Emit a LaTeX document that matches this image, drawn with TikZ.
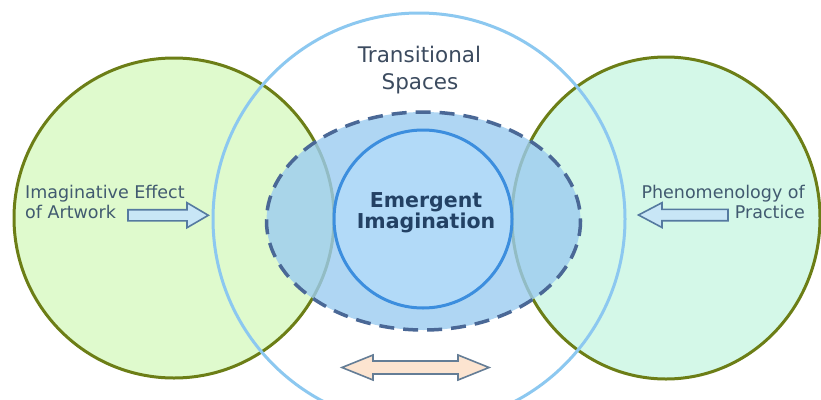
\documentclass[tikz,border=0pt]{standalone}
\usepackage{fontspec}
\setmainfont{DejaVu Sans}
\definecolor{lgreen}{RGB}{223,250,205}
\definecolor{rgreen}{RGB}{212,248,232}
\definecolor{olive}{RGB}{108,126,22}
\definecolor{bigblue}{RGB}{140,200,240}
\definecolor{ellfill}{RGB}{156,204,240}
\definecolor{dashc}{RGB}{74,104,150}
\definecolor{innerc}{RGB}{60,142,222}
\definecolor{innerfill}{RGB}{178,218,248}
\definecolor{txtA}{RGB}{60,75,95}
\definecolor{txtB}{RGB}{65,90,112}
\definecolor{txtC}{RGB}{35,65,100}
\definecolor{arrowfill}{RGB}{200,230,246}
\definecolor{arrowline}{RGB}{85,122,160}
\definecolor{peach}{RGB}{252,228,208}
\definecolor{peachline}{RGB}{100,125,150}
\tikzset{
  greencirc/.style={draw=olive, line width=3pt},
  sidetext/.style={text=txtB, font=\fontsize{17.5}{20}\selectfont, inner sep=0pt, anchor=base},
  toptext/.style={text=txtA, font=\fontsize{21.5}{27}\selectfont, inner sep=0pt, anchor=base},
  midtext/.style={text=txtC, font=\bfseries\fontsize{20.5}{21}\selectfont, inner sep=0pt, anchor=base},
  blockarrow/.style={fill=arrowfill, draw=arrowline, line width=1.6pt, line join=miter},
}
\begin{document}
\begin{tikzpicture}[x=1pt,y=-1pt]
\useasboundingbox (0,0) rectangle (821,399);
\clip (0,0) rectangle (821,399);
\fill[white] (0,0) rectangle (821,399);
% green circles
\path[greencirc, fill=lgreen] (174,218) circle[radius=160];
\path[greencirc, fill=rgreen] (666,218) ellipse[x radius=154, y radius=161];
% transitional big circle
\draw[bigblue, line width=3pt] (419,219) circle[radius=206];
% dashed ellipse
\fill[ellfill, fill opacity=0.8] (423.5,221) ellipse[x radius=157, y radius=109];
\draw[dashc, line width=3.5pt, dash pattern=on 15pt off 9pt] (423.5,221) ellipse[x radius=157, y radius=109];
% inner circle
\draw[innerc, fill=innerfill, line width=3pt] (423,219) circle[radius=89];
% texts
\node[toptext] (ts1) at (419.5,62) {Transitional};
\node[toptext] (ts2) at (420,89) {Spaces};
\node[midtext] (em1) at (426,207) {Emergent};
\node[midtext] (em2) at (426,228) {Imagination};
\node[sidetext, anchor=base west] (ie1) at (25,198) {Imaginative Effect};
\node[sidetext, anchor=base west] (ie2) at (25,218) {of Artwork};
\node[sidetext, anchor=base east] (ph1) at (805,198) {Phenomenology of};
\node[sidetext, anchor=base east] (ph2) at (805,218) {Practice};
% side arrows
\draw[blockarrow] (128,209.7) -- (187,209.7) -- (187,202.7) -- (208.3,215.3) -- (187,227.7) -- (187,220.9) -- (128,220.9) -- cycle;
\draw[blockarrow] (728,209.3) -- (662,209.3) -- (662,202.7) -- (638.5,215) -- (662,227.5) -- (662,220.7) -- (728,220.7) -- cycle;
% bottom double arrow
\draw[fill=peach, draw=peachline, line width=1.6pt, line join=miter]
  (342,367.5) -- (373,355) -- (373,361) -- (458,361) -- (458,355) -- (489,367.5)
  -- (458,380) -- (458,374) -- (373,374) -- (373,380) -- cycle;
\end{tikzpicture}
\end{document}
